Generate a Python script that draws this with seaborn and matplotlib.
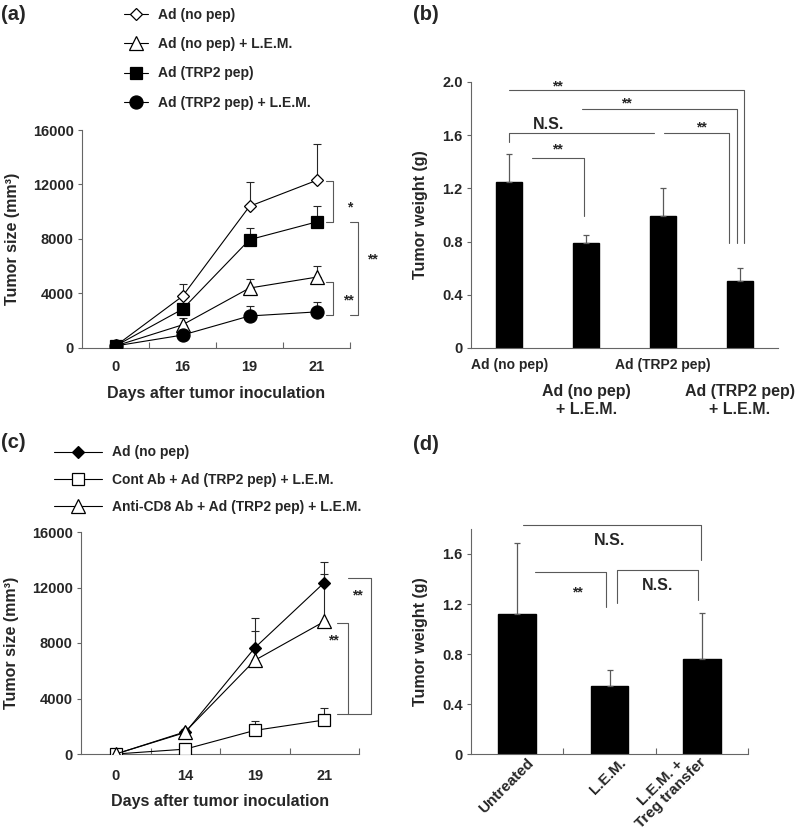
import numpy as np
import matplotlib
matplotlib.use("Agg")
import matplotlib.pyplot as plt
import matplotlib.transforms as mtransforms
import seaborn as sns

# --- values (mean, upper error) ---
days_a = ["0", "16", "19", "21"]
a_nopep = [150, 3800, 10400, 12300]
a_nopep_err = [0, 900, 1800, 2700]
a_nopep_lem = [150, 1700, 4400, 5200]
a_nopep_lem_err = [0, 500, 650, 800]
a_trp2 = [150, 2850, 7950, 9250]
a_trp2_err = [0, 400, 850, 1200]
a_trp2_lem = [150, 950, 2350, 2650]
a_trp2_lem_err = [0, 150, 700, 700]

b_groups = ["Ad (no pep)", "Ad (no pep)\n+ L.E.M.", "Ad (TRP2 pep)", "Ad (TRP2 pep)\n+ L.E.M."]
b_weight = [1.25, 0.79, 0.99, 0.505]
b_err = [0.21, 0.06, 0.21, 0.10]

days_c = ["0", "14", "19", "21"]
c_nopep = [0, 1550, 7650, 12350]
c_nopep_err = [0, 0, 2150, 1500]
c_cont = [0, 350, 1700, 2450]
c_cont_err = [0, 250, 700, 850]
c_cd8 = [0, 1600, 6750, 9550]
c_cd8_err = [0, 200, 2100, 3400]

d_groups = ["Untreated", "L.E.M.", "L.E.M. +\nTreg transfer"]
d_weight = [1.12, 0.545, 0.76]
d_err = [0.57, 0.13, 0.37]

# --- style ---
sns.set_style("ticks")
plt.rcParams["font.family"] = ["Liberation Sans", "DejaVu Sans"]
plt.rcParams["font.weight"] = "bold"
plt.rcParams["axes.labelweight"] = "bold"

W, H = 798, 831
fig = plt.figure(figsize=(W / 100, H / 100), dpi=100)


def px_axes(l, t, r, b):
    return fig.add_axes([l / W, 1 - b / H, (r - l) / W, (b - t) / H])


def style_axes(ax):
    sns.despine(ax=ax)
    for s in ["left", "bottom"]:
        ax.spines[s].set_color("0.4")
        ax.spines[s].set_linewidth(0.8)
    ax.tick_params(axis="y", direction="out", length=3, width=0.8, color="0.4",
                   labelsize=10.5, pad=3)
    ax.tick_params(axis="x", which="major", length=0, labelsize=10.5)
    ax.tick_params(axis="x", which="minor", direction="in", length=4, width=0.8, color="0.4")


def bracket(ax, xs, ys):
    ax.plot(xs, ys, color="0.35", lw=0.8, clip_on=False)


def mark(ax, x, y, s, size=10):
    ax.text(x, y, s, ha="center", va="center", fontsize=size, fontweight="bold")


def line_series(ax, vals, errs, label, marker, ms, fc):
    x = np.arange(len(vals))
    ax.errorbar(x, vals, yerr=[np.zeros(len(errs)), errs], fmt="none", ecolor="0.15",
                elinewidth=0.8, capsize=3, capthick=0.8, zorder=1)
    sns.lineplot(x=x, y=vals, ax=ax, color="black", lw=0.8, marker=marker, markersize=ms,
                 markerfacecolor=fc, markeredgecolor="black", markeredgewidth=0.9,
                 label=label, zorder=3)


def bar_panel(ax, groups, vals, errs, width):
    sns.barplot(x=groups, y=vals, ax=ax, color="black", width=width, errorbar=None,
                saturation=1, edgecolor="black")
    x = np.arange(len(vals))
    ax.errorbar(x, vals, yerr=[np.zeros(len(errs)), errs], fmt="none", ecolor="0.35",
                elinewidth=0.9, capsize=2.5, capthick=0.9, zorder=1)


# --- (a) ---
ax = px_axes(82, 130, 350, 348)
line_series(ax, a_nopep, a_nopep_err, "Ad (no pep)", "D", 6.5, "white")
line_series(ax, a_nopep_lem, a_nopep_lem_err, "Ad (no pep) + L.E.M.", "^", 10, "white")
line_series(ax, a_trp2, a_trp2_err, "Ad (TRP2 pep)", "s", 8.6, "black")
line_series(ax, a_trp2_lem, a_trp2_lem_err, "Ad (TRP2 pep) + L.E.M.", "o", 9.4, "black")
ax.set_xlim(-0.5, 3.5)
ax.set_ylim(0, 16000)
ax.set_yticks([0, 4000, 8000, 12000, 16000])
ax.set_xticks(range(4))
ax.set_xticklabels(days_a)
ax.set_xticks([0.5, 1.5, 2.5, 3.5], minor=True)
style_axes(ax)
ax.tick_params(axis="x", which="major", pad=9)
ax.set_xlabel("Days after tumor inoculation", fontsize=11.5, labelpad=8)
ax.set_ylabel("Tumor size (mm³)", fontsize=11.5, labelpad=9)
ax.legend(loc="upper left", bbox_to_anchor=(0.157, 1.56), frameon=False, fontsize=10,
          handlelength=1.75, handletextpad=0.7, labelspacing=1.1, borderpad=0,
          borderaxespad=0)
bracket(ax, [3.14, 3.25, 3.25, 3.14], [12260, 12260, 9250, 9250])
mark(ax, 3.49, 10300, "*")
bracket(ax, [3.5, 3.62, 3.62, 3.5], [9250, 9250, 2420, 2420])
mark(ax, 3.84, 6500, "**")
bracket(ax, [3.14, 3.25, 3.25, 3.14], [4840, 4840, 2420, 2420])
mark(ax, 3.47, 3500, "**")

# --- (b) ---
ax = px_axes(471, 82, 778, 348)
bar_panel(ax, b_groups, b_weight, b_err, 0.34)
ax.set_xlim(-0.5, 3.5)
ax.set_ylim(0, 2.0)
ax.set_yticks([0, 0.4, 0.8, 1.2, 1.6, 2.0])
ax.set_yticklabels(["0", "0.4", "0.8", "1.2", "1.6", "2.0"])
ax.set_xticks(range(4))
# first row of staggered labels as tick labels, second row as separate text
ax.set_xticklabels([b_groups[0], "", b_groups[2], ""])
style_axes(ax)
ax.tick_params(axis="x", which="major", pad=7, labelsize=10)
for i in [1, 3]:
    ax.text(i, -0.135, b_groups[i], transform=ax.get_xaxis_transform(), ha="center",
            va="top", fontsize=11.5, fontweight="bold", linespacing=1.25)
ax.set_xlabel("")
ax.set_ylabel("Tumor weight (g)", fontsize=11.5, labelpad=10)
bracket(ax, [0.0, 3.06, 3.06], [1.94, 1.94, 0.79])
mark(ax, 0.62, 1.97, "**")
bracket(ax, [0.95, 2.97, 2.97], [1.80, 1.80, 0.79])
mark(ax, 1.53, 1.84, "**")
bracket(ax, [0.0, 0.0, 1.89], [1.55, 1.62, 1.62])
mark(ax, 0.51, 1.68, "N.S.", 11.5)
bracket(ax, [2.02, 2.86, 2.86], [1.62, 1.62, 0.79])
mark(ax, 2.5, 1.66, "**")
bracket(ax, [0.29, 0.97, 0.97], [1.43, 1.43, 0.99])
mark(ax, 0.63, 1.49, "**")

# --- (c) ---
ax = px_axes(81, 532, 359, 754)
line_series(ax, c_nopep, c_nopep_err, "Ad (no pep)", "D", 6.5, "black")
line_series(ax, c_cont, c_cont_err, "Cont Ab + Ad (TRP2 pep) + L.E.M.", "s", 8.6, "white")
line_series(ax, c_cd8, c_cd8_err, "Anti-CD8 Ab + Ad (TRP2 pep) + L.E.M.", "^", 10, "white")
ax.set_xlim(-0.5, 3.5)
ax.set_ylim(0, 16000)
ax.set_yticks([0, 4000, 8000, 12000, 16000])
ax.set_xticks(range(4))
ax.set_xticklabels(days_c)
ax.set_xticks([0.5, 1.5, 2.5, 3.5], minor=True)
style_axes(ax)
ax.tick_params(axis="x", which="major", pad=11)
ax.set_xlabel("Days after tumor inoculation", fontsize=11.5, labelpad=8)
ax.set_ylabel("Tumor size (mm³)", fontsize=11.5, labelpad=9)
ax.legend(loc="upper left", bbox_to_anchor=(-0.097, 1.39), frameon=False, fontsize=10,
          handlelength=3.45, handletextpad=0.7, labelspacing=0.95, borderpad=0,
          borderaxespad=0)
bracket(ax, [3.34, 3.67, 3.67, 3.34], [12700, 12700, 2880, 2880])
mark(ax, 3.47, 11400, "**")
bracket(ax, [3.18, 3.34, 3.34, 3.18], [9440, 9440, 2880, 2880])
mark(ax, 3.13, 8150, "**")

# --- (d) ---
ax = px_axes(471, 529, 748, 754)
bar_panel(ax, d_groups, d_weight, d_err, 0.41)
ax.set_xlim(-0.5, 2.5)
ax.set_ylim(0, 1.8)
ax.set_yticks([0, 0.4, 0.8, 1.2, 1.6])
ax.set_yticklabels(["0", "0.4", "0.8", "1.2", "1.6"])
ax.set_xticks(range(3))
ax.set_xticklabels(d_groups, rotation=45, ha="right", va="center",
                   rotation_mode="anchor", multialignment="center", linespacing=1.05)
ax.set_xticks([0.5, 1.5, 2.5], minor=True)
style_axes(ax)
ax.tick_params(axis="x", which="major", pad=5, labelsize=11)
for lab, (dx, dy) in zip(ax.get_xticklabels(), [(0.14, 0.0), (0.14, 0.0), (-0.03, 0.06)]):
    lab.set_transform(lab.get_transform()
                      + mtransforms.ScaledTranslation(dx, dy, fig.dpi_scale_trans))
ax.set_xlabel("")
ax.set_ylabel("Tumor weight (g)", fontsize=11.5, labelpad=10)
bracket(ax, [0.06, 1.99, 1.99], [1.83, 1.83, 1.55])
mark(ax, 1.0, 1.71, "N.S.", 11.5)
bracket(ax, [0.19, 0.96, 0.96], [1.46, 1.46, 1.18])
mark(ax, 0.65, 1.29, "**")
bracket(ax, [1.08, 1.08, 1.96, 1.96], [1.21, 1.47, 1.47, 1.23])
mark(ax, 1.52, 1.35, "N.S.", 11.5)

# --- panel letters ---
for x, y, s in [(1, 15, "(a)"), (413, 15, "(b)"), (1, 442, "(c)"), (413, 445, "(d)")]:
    fig.text(x / W, 1 - y / H, s, fontsize=14.5, fontweight="bold", ha="left", va="center")

fig.savefig("out.png", dpi=100)
